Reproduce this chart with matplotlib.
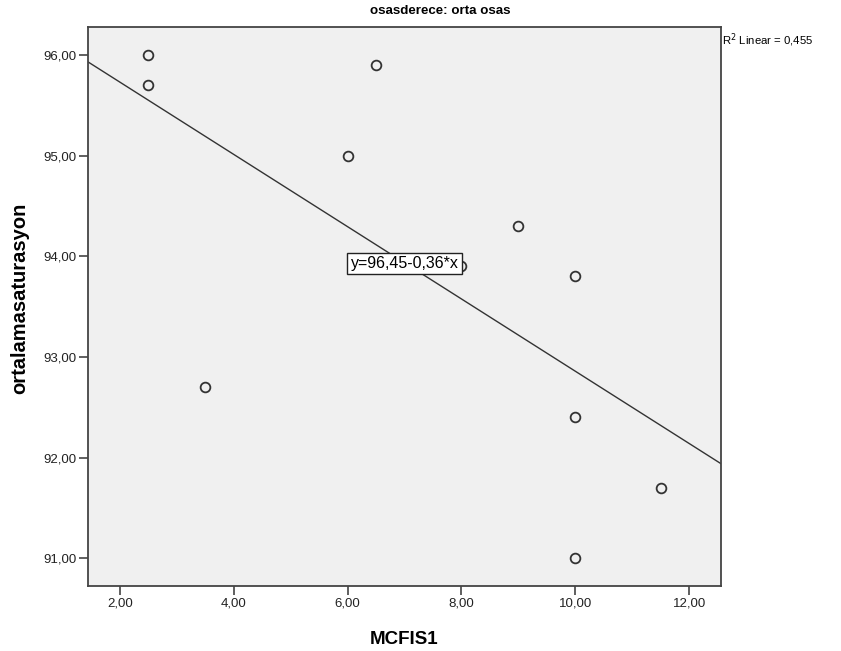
import numpy as np
import matplotlib
matplotlib.use("Agg")
import matplotlib.pyplot as plt
from matplotlib.ticker import FuncFormatter

# MCFIS1 vs ortalamasaturasyon
mcfis1 = [2.5, 2.5, 3.5, 6.0, 6.5, 8.0, 9.0, 10.0, 10.0, 11.5, 10.0]
saturasyon = [96.0, 95.7, 92.7, 95.0, 95.9, 93.9, 94.3, 93.8, 92.4, 91.7, 91.0]
x_ticks = [2, 4, 6, 8, 10, 12]
y_ticks = [91, 92, 93, 94, 95, 96]

plt.rcParams['font.family'] = ['Liberation Sans', 'DejaVu Sans']

fig = plt.figure(figsize=(8.41, 6.51), dpi=100)
ax = fig.add_axes([0.1046, 0.0998, 0.7527, 0.8582])
ax.set_facecolor('#f0f0f0')

xlim = (1.44, 12.56)
ax.set_xlim(xlim)
ax.set_ylim(90.725, 96.275)

slope, intercept = np.polyfit(mcfis1, saturasyon, 1)
r = np.corrcoef(mcfis1, saturasyon)[0, 1]
xs = np.array(xlim)
ax.plot(xs, intercept + slope * xs, color='#333333', lw=1.0, zorder=2)

ax.plot(mcfis1, saturasyon, 'o', ms=7, mfc='none', mec='#333333', mew=1.3, zorder=3)

eq = "y={:.2f}-{:.2f}*x".format(intercept, -slope).replace('.', ',')
ax.text(7.0, 93.93, eq, ha='center', va='center', fontsize=11.5, zorder=4,
        bbox=dict(boxstyle='square,pad=0.2', fc='white', ec='#222222', lw=1))

fig.text(0.8585, 0.938, "R$^2$ Linear = {:.3f}".format(r ** 2).replace('.', ','),
         fontsize=8.2, ha='left', va='center')

fmt = FuncFormatter(lambda v, p: "{:.2f}".format(v).replace('.', ','))
ax.set_xticks(x_ticks)
ax.set_yticks(y_ticks)
ax.xaxis.set_major_formatter(fmt)
ax.yaxis.set_major_formatter(fmt)
ax.tick_params(direction='out', length=6.5, width=1.2, color='#444444',
               labelsize=9.5, labelcolor='#222222', pad=2)
for s in ax.spines.values():
    s.set_color('#444444')
    s.set_linewidth(1.3)

fig.text(440 / 841, 1 - 11 / 651, "osasderece: orta osas", fontsize=9.6,
         fontweight='bold', ha='center', va='center')
ax.set_xlabel("MCFIS1", fontsize=13.5, fontweight='bold', labelpad=15)
ax.set_ylabel("ortalamasaturasyon", fontsize=14.5, fontweight='bold')
ax.yaxis.set_label_coords(-0.093, 0.515)

fig.savefig("out.png", dpi=100)
